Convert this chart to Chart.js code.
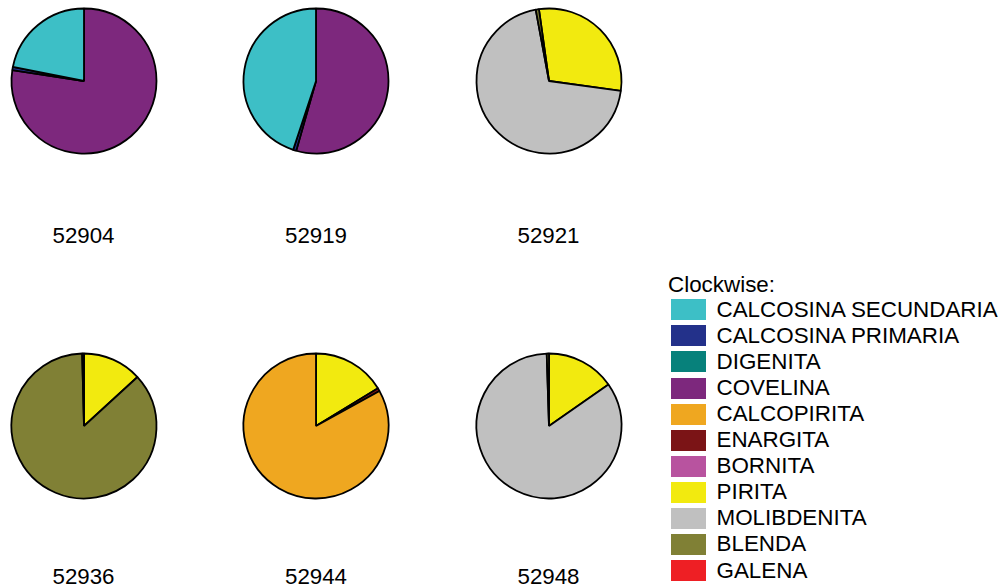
<!DOCTYPE html>
<html>
<head>
<meta charset="utf-8">
<script src="https://cdn.jsdelivr.net/npm/chart.js@4/dist/chart.umd.min.js"></script>
<style>
  html, body { margin: 0; padding: 0; background: #fff; }
  body { width: 1005px; height: 588px; position: relative; overflow: hidden;
         font-family: "Liberation Sans", Arial, sans-serif; color: #000; }
  .pie { position: absolute; width: 160px; height: 160px; }
  .sample { position: absolute; width: 200px; text-align: center; font-size: 22.3px; line-height: 22px; }
  #legend { position: absolute; left: 668px; top: 273.5px; font-size: 22.4px; line-height: 22px; }
  .item { position: absolute; left: 3px; height: 21px; white-space: nowrap; }
  .swatch { position: absolute; left: 0; top: 0; width: 35px; height: 21px; }
  .name { position: absolute; left: 45.5px; top: -0.5px; }
</style>
</head>
<body>
<div id="legend"><div>Clockwise:</div></div>
<script>
// Mineral list and colours, in legend order
const minerals = ['CALCOSINA SECUNDARIA', 'CALCOSINA PRIMARIA', 'DIGENITA', 'COVELINA',
  'CALCOPIRITA', 'ENARGITA', 'BORNITA', 'PIRITA', 'MOLIBDENITA', 'BLENDA', 'GALENA'];
const mineralColors = ['#3dbfc6', '#23318a', '#07817b', '#7d287d', '#efa720', '#7b1416',
  '#b8539f', '#f2ea0f', '#c0c0c0', '#808035', '#ee1f24'];

// Sample ids
const samples = ['52904', '52919', '52921', '52936', '52944', '52948'];

// Composition of each sample (%), slices listed clockwise from the start angle
const s52904Minerals = ['COVELINA', 'CALCOSINA PRIMARIA', 'CALCOSINA SECUNDARIA'];
const s52904Values = [77.4, 0.7, 21.9];
const s52919Minerals = ['COVELINA', 'CALCOSINA PRIMARIA', 'CALCOSINA SECUNDARIA'];
const s52919Values = [54.4, 0.7, 44.9];
const s52921Minerals = ['PIRITA', 'MOLIBDENITA', 'BLENDA'];
const s52921Values = [29.4, 69.9, 0.7];
const s52936Minerals = ['PIRITA', 'BLENDA', 'ENARGITA'];
const s52936Values = [13.2, 86.4, 0.4];
const s52944Minerals = ['PIRITA', 'ENARGITA', 'CALCOPIRITA'];
const s52944Values = [16.3, 0.7, 83.0];
const s52948Minerals = ['PIRITA', 'MOLIBDENITA', 'BLENDA'];
const s52948Values = [15.3, 84.2, 0.5];

// Start angle of the first slice, degrees clockwise from 12 o'clock
const startAngles = [0, 0, -8, 0, 0, 0];

const sampleMinerals = [s52904Minerals, s52919Minerals, s52921Minerals,
  s52936Minerals, s52944Minerals, s52948Minerals];
const sampleValues = [s52904Values, s52919Values, s52921Values,
  s52936Values, s52944Values, s52948Values];

// Grid layout: pie centres and caption rows
const colCenters = [83.5, 316, 548.5];
const rowCenters = [81.2, 426];
const captionTops = [225.3, 566];
const pieRadius = 72.5;

samples.forEach((id, i) => {
  const col = i % 3, row = Math.floor(i / 3);
  const cx = colCenters[col], cy = rowCenters[row];

  const canvas = document.createElement('canvas');
  canvas.className = 'pie';
  canvas.width = 160; canvas.height = 160;
  canvas.style.left = (cx - 80) + 'px';
  canvas.style.top = (cy - 80) + 'px';
  document.body.appendChild(canvas);

  const names = sampleMinerals[i];
  new Chart(canvas, {
    type: 'pie',
    data: {
      labels: names,
      datasets: [{
        data: sampleValues[i],
        backgroundColor: names.map(n => mineralColors[minerals.indexOf(n)]),
        borderColor: '#000',
        borderWidth: 1.8
      }]
    },
    options: {
      responsive: false,
      animation: false,
      events: [],
      rotation: startAngles[i],
      radius: pieRadius,
      layout: { padding: 0 },
      plugins: { legend: { display: false }, tooltip: { enabled: false } }
    }
  });

  const cap = document.createElement('div');
  cap.className = 'sample';
  cap.textContent = id;
  cap.style.left = (cx - 100) + 'px';
  cap.style.top = captionTops[row] + 'px';
  document.body.appendChild(cap);
});

// Shared legend
const legend = document.getElementById('legend');
minerals.forEach((name, k) => {
  const item = document.createElement('div');
  item.className = 'item';
  item.style.top = (25.8 + k * 26.07) + 'px';
  const sw = document.createElement('div');
  sw.className = 'swatch';
  sw.style.background = mineralColors[k];
  const label = document.createElement('div');
  label.className = 'name';
  label.textContent = name;
  item.appendChild(sw);
  item.appendChild(label);
  legend.appendChild(item);
});
</script>
</body>
</html>
